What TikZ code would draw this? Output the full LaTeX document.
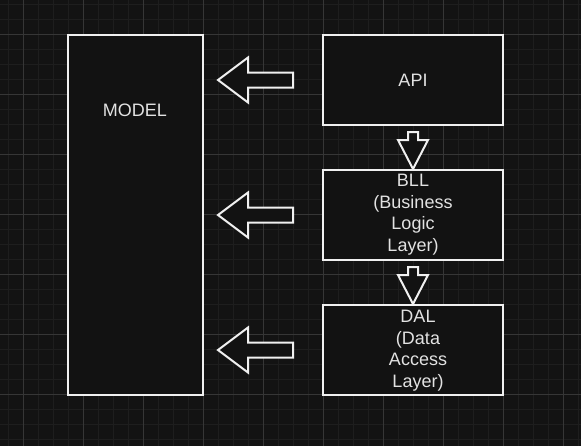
\documentclass[tikz,border=0pt]{standalone}
\usepackage{fontspec}
\setmainfont{Liberation Sans}
\usetikzlibrary{calc}
\definecolor{bg}{HTML}{131313}
\definecolor{gridminor}{HTML}{1E1E1E}
\definecolor{gridmajor}{HTML}{363636}
\definecolor{boxfill}{HTML}{121212}
\definecolor{edge}{HTML}{F0F0F0}
\definecolor{txt}{HTML}{E2E2E2}
\tikzset{
  layerbox/.style={draw=edge, line width=1.5pt, fill=boxfill, rectangle, inner sep=0pt},
  lbl/.style={text=txt, font=\fontsize{13.5pt}{16.2pt}\selectfont, align=center, inner sep=0pt},
  blockarrow/.style={draw=edge, line width=1.5pt, fill=boxfill, line join=miter},
}
\begin{document}
\begin{tikzpicture}[x=0.75pt,y=-0.75pt]
\useasboundingbox (0,0) rectangle (581,446);
\fill[bg] (0,0) rectangle (581,446);
% grid
\foreach \gx in {8,23,...,578} \draw[gridminor, line width=0.75pt] (\gx,0) -- (\gx,446);
\foreach \gy in {4,19,...,444} \draw[gridminor, line width=0.75pt] (0,\gy) -- (581,\gy);
\foreach \gx in {23,83,...,578} \draw[gridmajor, line width=0.75pt] (\gx,0) -- (\gx,446);
\foreach \gy in {34,94,...,444} \draw[gridmajor, line width=0.75pt] (0,\gy) -- (581,\gy);
% boxes
\node[layerbox, minimum width=101.25pt, minimum height=270pt] (model) at (135.5,215) {};
\node[layerbox, minimum width=135pt, minimum height=67.5pt] (api) at (413,80) {};
\node[layerbox, minimum width=135pt, minimum height=67.5pt] (bll) at (413,215) {};
\node[layerbox, minimum width=135pt, minimum height=67.5pt] (dal) at (413,350) {};
% labels
\node[lbl] (modeltxt) at (135,110) {MODEL};
\node[lbl] (apitxt) at (api.center) {API};
\node[lbl] (blltxt) at ($(bll.center)+(0,-0.5)$) {BLL\\(Business\\Logic\\Layer)};
\node[lbl] (daltxt) at ($(dal.center)+(5,0.5)$) {DAL\\(Data\\Access\\Layer)};
% left block arrows
\foreach \ay in {80,215,350}{
  \draw[blockarrow] (218,\ay) -- (248,\ay-22.5) -- (248,\ay-7.5) -- (293,\ay-7.5)
    -- (293,\ay+7.5) -- (248,\ay+7.5) -- (248,\ay+22.5) -- cycle;
}
% down block arrows
\coordinate (t1) at (bll.north);
\coordinate (t2) at (dal.north);
\foreach \t in {t1,t2}{
  \draw[blockarrow] (\t) -- ($(\t)+(-15,-29)$) -- ($(\t)+(-5,-29)$) -- ($(\t)+(-5,-37)$)
    -- ($(\t)+(5,-37)$) -- ($(\t)+(5,-29)$) -- ($(\t)+(15,-29)$) -- cycle;
}
\end{tikzpicture}
\end{document}
